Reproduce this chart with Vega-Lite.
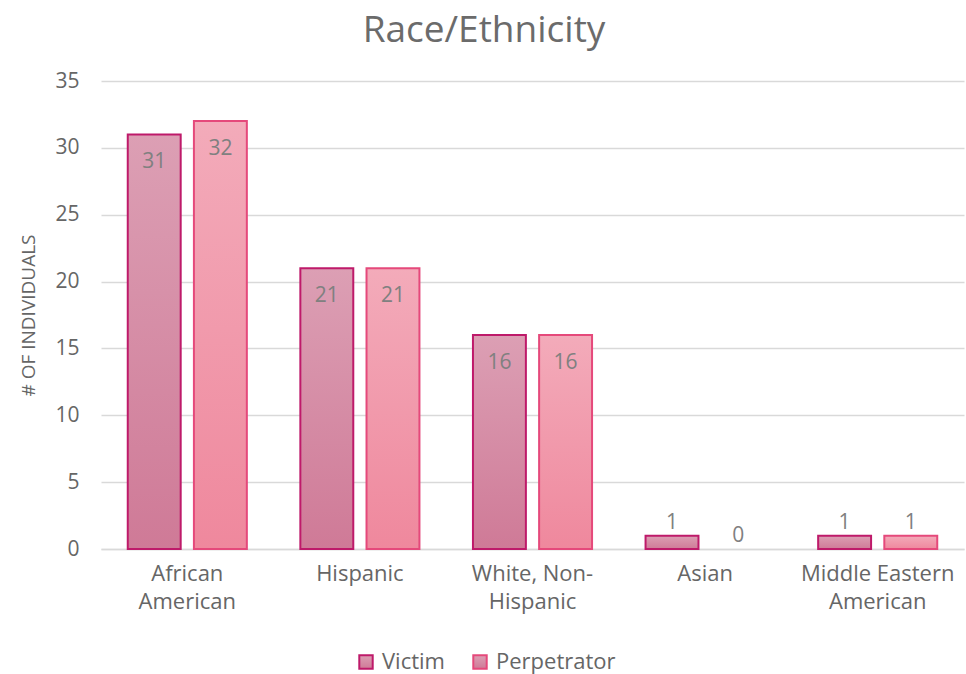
{
  "$schema": "https://vega.github.io/schema/vega-lite/v6.json",
  "width": 966,
  "height": 674,
  "autosize": {"type": "fit", "contains": "padding"},
  "padding": {"left": 19, "right": 2, "top": 12, "bottom": 62},
  "background": "white",
  "config": {"view": {"stroke": null}, "font": "Open Sans"},
  "title": {"text": "Race/Ethnicity", "fontSize": 37, "fontWeight": "normal", "color": "#6b6b6b", "offset": 20, "font": "Open Sans", "frame": "bounds", "dx": -8},
  "data": {"values": [
    {"race": "African American", "series": "Victim", "count": 31},
    {"race": "African American", "series": "Perpetrator", "count": 32},
    {"race": "Hispanic", "series": "Victim", "count": 21},
    {"race": "Hispanic", "series": "Perpetrator", "count": 21},
    {"race": "White, Non-Hispanic", "series": "Victim", "count": 16},
    {"race": "White, Non-Hispanic", "series": "Perpetrator", "count": 16},
    {"race": "Asian", "series": "Victim", "count": 1},
    {"race": "Asian", "series": "Perpetrator", "count": 0},
    {"race": "Middle Eastern American", "series": "Victim", "count": 1},
    {"race": "Middle Eastern American", "series": "Perpetrator", "count": 1}
  ]},
  "encoding": {
    "x": {"field": "race", "type": "nominal", "sort": null,
      "scale": {"paddingInner": 0.31, "paddingOuter": 0.155},
      "axis": {"title": null, "labelAngle": 0, "labelFontSize": 22, "labelColor": "#666666", "domainColor": "#d9d9d9", "domainWidth": 1.5, "ticks": false, "labelPadding": 14, "labelLineHeight": 28,
        "labelExpr": "datum.label == 'African American' ? ['African', 'American'] : datum.label == 'White, Non-Hispanic' ? ['White, Non-', 'Hispanic'] : datum.label == 'Middle Eastern American' ? ['Middle Eastern', 'American'] : datum.label"}},
    "xOffset": {"field": "series", "type": "nominal", "sort": ["Victim", "Perpetrator"], "scale": {"domain": ["Victim", "Perpetrator"], "paddingInner": 0.2}},
    "y": {"field": "count", "type": "quantitative",
      "scale": {"domain": [0, 35]},
      "axis": {"title": "# OF INDIVIDUALS", "titleFontSize": 19, "titleFontWeight": "normal", "titleColor": "#666666", "titlePadding": 16, "labelFontSize": 21, "labelColor": "#666666", "values": [0,5,10,15,20,25,30,35], "gridColor": "#d9d9d9", "gridWidth": 1.5, "domain": false, "ticks": false, "labelPadding": 22}},
    "stroke": {"field": "series", "type": "nominal",
      "scale": {"domain": ["Victim", "Perpetrator"], "range": ["#be1a6a", "#e5497b"]},
      "legend": {"title": null, "orient": "none", "legendX": 254, "legendY": 570, "direction": "horizontal", "labelFontSize": 22, "labelColor": "#666666", "symbolType": "square", "symbolSize": 180, "symbolStrokeWidth": 2, "columnPadding": 24, "labelOffset": 5,
        "encode": {"symbols": {"update": {"fill": {"signal": "datum.label == 'Victim' ? '#d28aa5' : '#f29bac'"}, "fillOpacity": {"value": 1}}}}}
    }
  },
  "layer": [
    {
      "transform": [{"filter": "datum.series == 'Victim' && datum.count > 0"}],
      "mark": {"type": "bar", "strokeWidth": 2,
        "fill": {"gradient": "linear", "x1": 0, "y1": 0, "x2": 0, "y2": 1, "stops": [{"offset": 0, "color": "#dc9fb4"}, {"offset": 1, "color": "#cf7a97"}]}}
    },
    {
      "transform": [{"filter": "datum.series == 'Perpetrator' && datum.count > 0"}],
      "mark": {"type": "bar", "strokeWidth": 2,
        "fill": {"gradient": "linear", "x1": 0, "y1": 0, "x2": 0, "y2": 1, "stops": [{"offset": 0, "color": "#f3abba"}, {"offset": 1, "color": "#ef889d"}]}}
    },
    {
      "transform": [{"filter": "datum.count >= 5"}],
      "mark": {"type": "text", "baseline": "top", "dy": 17, "fontSize": 21, "fill": "#808080", "strokeWidth": 0},
      "encoding": {"text": {"field": "count", "type": "quantitative"}}
    },
    {
      "transform": [{"filter": "datum.count < 5"}],
      "mark": {"type": "text", "baseline": "bottom", "dy": -3, "fontSize": 21, "fill": "#808080", "strokeWidth": 0},
      "encoding": {"text": {"field": "count", "type": "quantitative"}}
    }
  ]
}
